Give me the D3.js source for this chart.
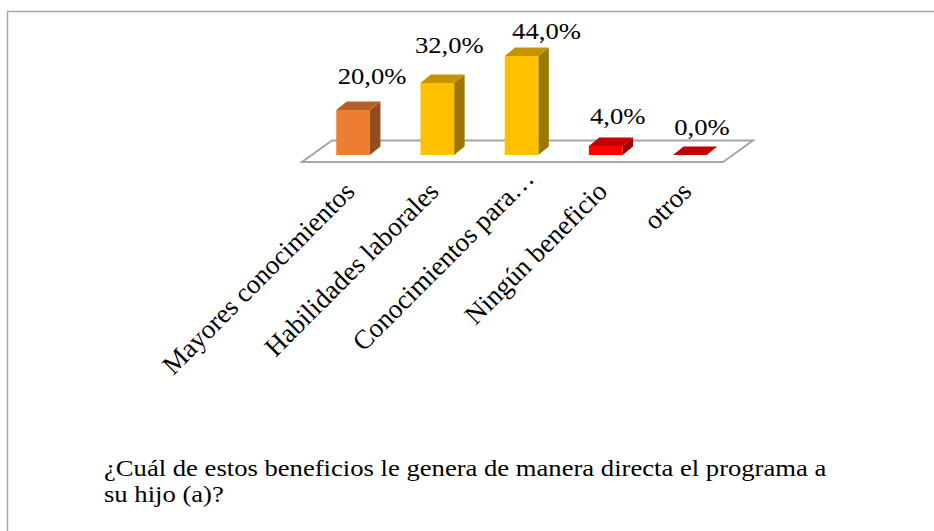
<!DOCTYPE html>
<html>
<head>
<meta charset="utf-8">
<script src="https://cdn.jsdelivr.net/npm/d3@7"></script>
<style>
  html, body { margin: 0; padding: 0; background: #fff; }
  svg { display: block; }
  text { font-family: "Liberation Serif", "Times New Roman", serif; fill: #000; }
</style>
</head>
<body>
<svg id="chart" width="934" height="531"></svg>
<script>
const categories = ["Mayores conocimientos", "Habilidades laborales", "Conocimientos para…", "Ningún beneficio", "otros"];
const values = [20.0, 32.0, 44.0, 4.0, 0.0];
const valueLabels = ["20,0%", "32,0%", "44,0%", "4,0%", "0,0%"];
const barColors = ["#ED7D31", "#FFC000", "#FFC000", "#FF0000", "#FF0000"];
const titleLines = ["¿Cuál de estos beneficios le genera de manera directa el programa a", "su hijo (a)?"];

const svg = d3.select("#chart");
const stretch = 1.11;

// frame (continues past the right and bottom edges)
svg.append("rect").attr("x", 7.5).attr("y", 11.5).attr("width", 1000).attr("height", 1000)
  .attr("fill", "none").attr("stroke", "#A6A6A6").attr("stroke-width", 1.5);

const x = d3.scaleBand().domain(categories).range([311, 732]).padding(0);
const y = d3.scaleLinear().domain([0, 50]).range([155, 42.5]);
const bw = x.bandwidth() * 0.4;
const bx = d => x(d) + x.bandwidth() * 0.3;
const ddx = 10.5, ddy = -8.5;

// floor
const r0 = x.range()[0] - 9, r1 = x.range()[1] - 9, fy = y(0) + 7, fdx = 30, fdy = -21.5;
svg.append("path")
  .attr("d", `M${r0},${fy}L${r1},${fy}L${r1 + fdx},${fy + fdy}L${r0 + fdx},${fy + fdy}Z`)
  .attr("fill", "#fff").attr("stroke", "#A6A6A6").attr("stroke-width", 2).attr("stroke-linejoin", "miter");

const data = categories.map((c, i) => ({ c, v: values[i], label: valueLabels[i], color: barColors[i], i }));

const bars = svg.append("g").selectAll("g").data(data).join("g");
// side face
bars.append("path").attr("d", d => {
  const x1 = bx(d.c) + bw, y0 = y(0), yv = y(d.v);
  return `M${x1},${y0}L${x1 + ddx},${y0 + ddy}L${x1 + ddx},${yv + ddy}L${x1},${yv}Z`;
}).attr("fill", d => d3.rgb(d.color).darker(1.35));
// top face
bars.append("path").attr("d", d => {
  const x0 = bx(d.c), x1 = x0 + bw, yv = y(d.v);
  return `M${x0},${yv}L${x1},${yv}L${x1 + ddx},${yv + ddy}L${x0 + ddx},${yv + ddy}Z`;
}).attr("fill", d => d3.rgb(d.color).darker(0.73));
// front face
bars.append("rect")
  .attr("x", d => bx(d.c)).attr("y", d => y(d.v))
  .attr("width", bw).attr("height", d => y(0) - y(d.v))
  .attr("fill", d => d.color);

// value labels
const lblNudgeX = [7, 0, 13, 0, 0], lblNudgeY = [0, -4, 9, 4, 6];
svg.append("g").selectAll("text").data(data).join("text")
  .attr("transform", d => `translate(${x(d.c) + x.bandwidth() / 2 + 12 + lblNudgeX[d.i]},${y(d.v) - 26 + lblNudgeY[d.i]}) scale(${stretch},1)`)
  .attr("text-anchor", "middle").attr("font-size", 24)
  .text(d => d.label);

// category labels
const catNudge = [0, 0, 16, 0, 0];
svg.append("g").selectAll("text").data(data).join("text")
  .attr("transform", d => {
    const ax = x(d.c) + x.bandwidth() / 2 + 3 + catNudge[d.i] * 0.7;
    const ay = 193 - catNudge[d.i] * 0.8;
    return `translate(${ax},${ay}) rotate(-45)`;
  })
  .attr("text-anchor", "end").attr("font-size", 27)
  .text(d => d.c);

// title
svg.append("g").selectAll("text").data(titleLines).join("text")
  .attr("transform", (d, i) => `translate(104,${476 + i * 26}) scale(${stretch},1)`)
  .attr("font-size", 24)
  .text(d => d);
</script>
</body>
</html>
